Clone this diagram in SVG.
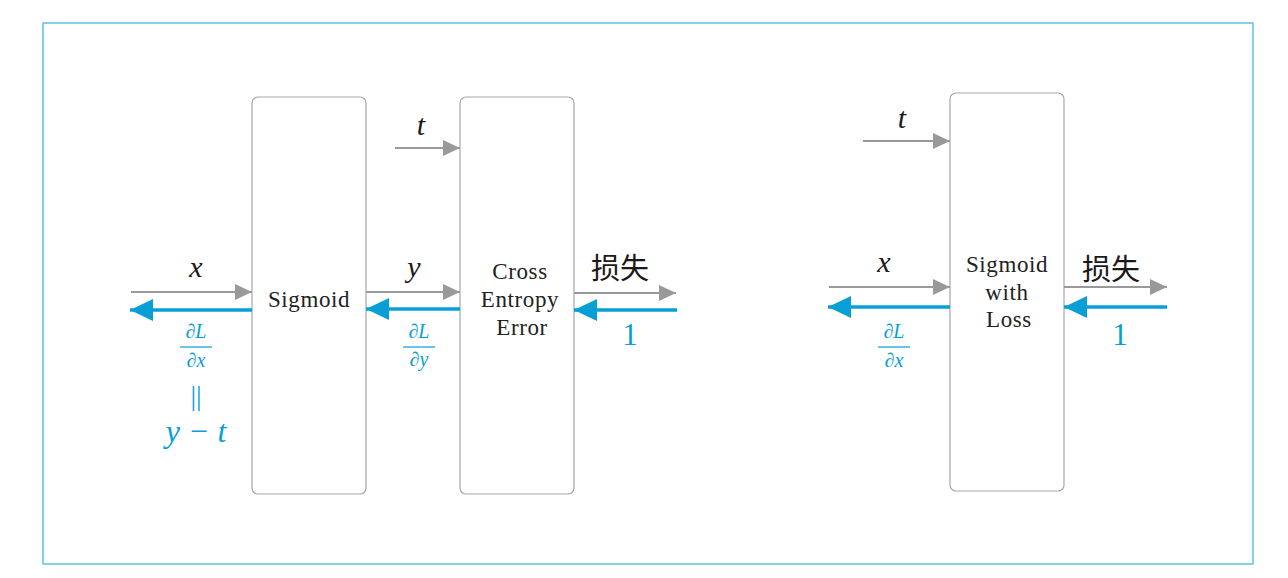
<svg xmlns="http://www.w3.org/2000/svg" width="1288" height="578" viewBox="0 0 1288 578">
<style>
.box{fill:#fff;stroke:#a8a8a8;stroke-width:1.2}
.fw{stroke:#999;stroke-width:2;fill:none}
.bw{stroke:#079fd6;stroke-width:3.5;fill:none}
.lbl{font-family:"Liberation Serif",serif;font-size:23px;fill:#222;text-anchor:middle;letter-spacing:0.6px}
.var{font-family:"Liberation Serif",serif;font-style:italic;font-size:30px;fill:#1a1a1a;text-anchor:middle}
.cjk{font-family:"Noto Sans CJK SC",sans-serif;font-size:29px;fill:#1a1a1a;text-anchor:middle}
.bl{font-family:"Liberation Serif",serif;fill:#079fd6;text-anchor:middle}
.frac{font-style:italic;font-size:20px}
.fl{stroke:#079fd6;stroke-width:1.2}
</style>
<defs>
<marker id="ga" markerUnits="userSpaceOnUse" markerWidth="17" markerHeight="16" refX="17" refY="8" orient="auto"><path d="M0,0 L17,8 L0,16 z" fill="#999"/></marker>
<marker id="ba" markerUnits="userSpaceOnUse" markerWidth="23" markerHeight="22" refX="23" refY="11" orient="auto"><path d="M0,0 L23,11 L0,22 z" fill="#079fd6"/></marker>
</defs>
<rect x="43" y="23" width="1210" height="541" fill="#fff" stroke="#5cc3e3" stroke-width="1.5"/>

<g id="sigmoid"><rect class="box" x="252" y="97" width="114" height="397" rx="6"/><text class="lbl" x="309" y="307">Sigmoid</text></g>
<g id="cross-entropy"><rect class="box" x="460" y="97" width="114" height="397" rx="6"/><text class="lbl" x="520" y="279">Cross</text><text class="lbl" x="520" y="307">Entropy</text><text class="lbl" x="522" y="335">Error</text></g>
<g id="sigmoid-with-loss"><rect class="box" x="950" y="93" width="114" height="398" rx="6"/><text class="lbl" x="1007" y="272">Sigmoid</text><text class="lbl" x="1007" y="300">with</text><text class="lbl" x="1009" y="327">Loss</text></g>

<g id="connectors">
<line class="fw" x1="131" y1="292" x2="252" y2="292" marker-end="url(#ga)"/>
<line class="bw" x1="252" y1="310" x2="130" y2="310" marker-end="url(#ba)"/>
<line class="fw" x1="366" y1="292" x2="460" y2="292" marker-end="url(#ga)"/>
<line class="bw" x1="460" y1="309" x2="366" y2="309" marker-end="url(#ba)"/>
<line class="fw" x1="395" y1="148" x2="460" y2="148" marker-end="url(#ga)"/>
<line class="fw" x1="574" y1="293" x2="676" y2="293" marker-end="url(#ga)"/>
<line class="bw" x1="677" y1="310" x2="574" y2="310" marker-end="url(#ba)"/>
<line class="fw" x1="863" y1="141" x2="950" y2="141" marker-end="url(#ga)"/>
<line class="fw" x1="829" y1="287" x2="950" y2="287" marker-end="url(#ga)"/>
<line class="bw" x1="950" y1="307" x2="828" y2="307" marker-end="url(#ba)"/>
<line class="fw" x1="1064" y1="287" x2="1167" y2="287" marker-end="url(#ga)"/>
<line class="bw" x1="1167" y1="307" x2="1064" y2="307" marker-end="url(#ba)"/>
</g>

<g id="labels">
<text class="var" x="196" y="277">x</text>
<text class="bl frac" x="196" y="338">∂L</text>
<line class="fl" x1="180" y1="347" x2="212" y2="347"/>
<text class="bl frac" x="196" y="367">∂x</text>
<text class="bl" x="196" y="405" font-size="28">||</text>
<text class="bl" x="196" y="442" font-size="32" font-style="italic">y − t</text>

<text class="var" x="414" y="277">y</text>
<text class="bl frac" x="419" y="338">∂L</text>
<line class="fl" x1="403" y1="347" x2="435" y2="347"/>
<text class="bl frac" x="419" y="366">∂y</text>
<text class="var" x="421" y="135">t</text>

<text class="cjk" x="620" y="279">损失</text>
<text class="bl" x="630" y="345" font-size="31">1</text>

<text class="var" x="902" y="128">t</text>
<text class="var" x="884" y="272">x</text>
<text class="bl frac" x="894" y="338">∂L</text>
<line class="fl" x1="878" y1="347" x2="910" y2="347"/>
<text class="bl frac" x="894" y="367">∂x</text>
<text class="cjk" x="1111" y="280">损失</text>
<text class="bl" x="1120" y="345" font-size="31">1</text>
</g>
</svg>
